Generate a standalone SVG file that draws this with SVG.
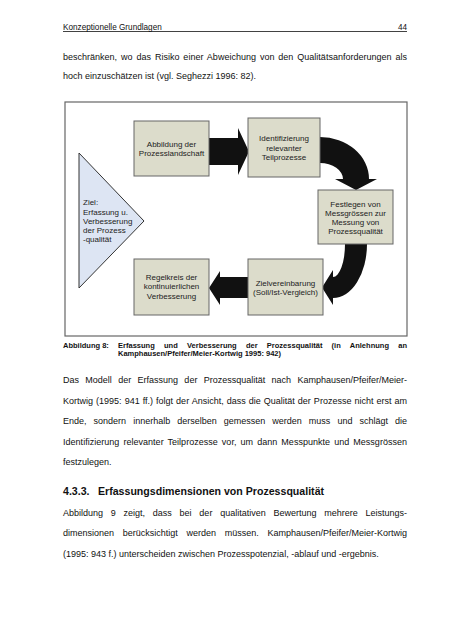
<svg xmlns="http://www.w3.org/2000/svg" width="452" height="640" viewBox="0 0 452 640">
<style>
text{font-family:"Liberation Sans",Arial,sans-serif;fill:#111}
.hdr{font-size:8.2px}
.body{font-size:9px}
.cap{font-size:7.5px;font-weight:bold}
.h3{font-size:10.6px;font-weight:bold}
.box{fill:#dcdccb;stroke:#666;stroke-width:1}
.bt{font-size:8px;fill:#222;text-anchor:middle}
.tt{font-size:8px;fill:#222}
.arr{fill:#111;stroke:none}
</style>
<rect width="452" height="640" fill="#fff"/>
<g id="page-header">
<text class="hdr" x="63" y="30">Konzeptionelle Grundlagen</text>
<text class="hdr" x="407" y="30" text-anchor="end">44</text>
<line x1="63" y1="31.5" x2="407" y2="31.5" stroke="#111" stroke-width="0.8"/>
</g>
<g id="para1">
<text class="body" x="63" y="60" word-spacing="1.42" textLength="344" lengthAdjust="spacing">beschränken, wo das Risiko einer Abweichung von den Qualitätsanforderungen als</text>
<text class="body" x="63" y="78.5">hoch einzuschätzen ist (vgl. Seghezzi 1996: 82).</text>
</g>
<g id="frame">
<rect x="65" y="102" width="342" height="234" fill="#fff" stroke="#666" stroke-width="1.2"/>
</g>
<g id="connectors">
<path class="arr" d="M209,138 L238,138 L238,128 L249,151.5 L238,175 L238,165 L209,165 Z"/>
<path class="arr" d="M320,137 A49,42 0 0 1 369,179 L377,179 L356,190 L335,179 L343,179 A23,16 0 0 0 320,163 Z"/>
<path class="arr" d="M367,244 A34,54 0 0 1 333,298 L333,305 L322,287.5 L333,270 L333,277 A12,33 0 0 0 345,244 Z"/>
<path class="arr" d="M248,277 L220,277 L220,271 L209,288 L220,305 L220,298 L248,298 Z"/>
</g>
<g id="node-ziel">
<polygon points="79,153 144,221 79,288" fill="#dde5f3" stroke="#333" stroke-width="1"/>
<text class="tt" x="83" y="205">Ziel:</text>
<text class="tt" x="83" y="214.5">Erfassung u.</text>
<text class="tt" x="83" y="223.5">Verbesserung</text>
<text class="tt" x="83" y="232.5">der Prozess</text>
<text class="tt" x="83" y="241.5">-qualität</text>
</g>
<g id="node-abbildung">
<rect class="box" x="134" y="121" width="75" height="55"/>
<text class="bt" x="171.5" y="146.5">Abbildung der</text>
<text class="bt" x="171.5" y="156">Prozesslandschaft</text>
</g>
<g id="node-identifizierung">
<rect class="box" x="248" y="118" width="72" height="59"/>
<text class="bt" x="284" y="141">Identifizierung</text>
<text class="bt" x="284" y="150.5">relevanter</text>
<text class="bt" x="284" y="160">Teilprozesse</text>
</g>
<g id="node-festlegen">
<rect class="box" x="318" y="190" width="75" height="54"/>
<text class="bt" x="355.5" y="207">Festlegen von</text>
<text class="bt" x="355.5" y="216">Messgrössen zur</text>
<text class="bt" x="355.5" y="225">Messung von</text>
<text class="bt" x="355.5" y="234">Prozessqualität</text>
</g>
<g id="node-zielvereinbarung">
<rect class="box" x="248" y="259" width="75" height="56"/>
<text class="bt" x="285.5" y="285.5">Zielvereinbarung</text>
<text class="bt" x="285.5" y="294.5">(Soll/Ist-Vergleich)</text>
</g>
<g id="node-regelkreis">
<rect class="box" x="134" y="259" width="75" height="56"/>
<text class="bt" x="171.5" y="279.5">Regelkreis der</text>
<text class="bt" x="171.5" y="289">kontinuierlichen</text>
<text class="bt" x="171.5" y="298.5">Verbesserung</text>
</g>
<g id="caption">
<text class="cap" x="63" y="347.5">Abbildung 8:</text>
<text class="cap" x="118" y="347.5" word-spacing="7.1" textLength="289" lengthAdjust="spacing">Erfassung und Verbesserung der Prozessqualität (in Anlehnung an</text>
<text class="cap" x="118" y="356">Kamphausen/Pfeifer/Meier-Kortwig 1995: 942)</text>
</g>
<g id="para2">
<text class="body" x="63" y="383" word-spacing="3.84" textLength="344" lengthAdjust="spacing">Das Modell der Erfassung der Prozessqualität nach Kamphausen/Pfeifer/Meier-</text>
<text class="body" x="63" y="403.5" word-spacing="0.49" textLength="344" lengthAdjust="spacing">Kortwig (1995: 941 ff.) folgt der Ansicht, dass die Qualität der Prozesse nicht erst am</text>
<text class="body" x="63" y="424" word-spacing="4.54" textLength="344" lengthAdjust="spacing">Ende, sondern innerhalb derselben gemessen werden muss und schlägt die</text>
<text class="body" x="63" y="444.5" word-spacing="1.55" textLength="344" lengthAdjust="spacing">Identifizierung relevanter Teilprozesse vor, um dann Messpunkte und Messgrössen</text>
<text class="body" x="63" y="465">festzulegen.</text>
</g>
<g id="heading">
<text class="h3" x="63" y="495">4.3.3.</text>
<text class="h3" x="98" y="495">Erfassungsdimensionen von Prozessqualität</text>
</g>
<g id="para3">
<text class="body" x="63" y="515.5" word-spacing="5.26" textLength="344" lengthAdjust="spacing">Abbildung 9 zeigt, dass bei der qualitativen Bewertung mehrere Leistungs-</text>
<text class="body" x="63" y="536" word-spacing="6.2" textLength="344" lengthAdjust="spacing">dimensionen berücksichtigt werden müssen. Kamphausen/Pfeifer/Meier-Kortwig</text>
<text class="body" x="63" y="556.5">(1995: 943 f.) unterscheiden zwischen Prozesspotenzial, -ablauf und -ergebnis.</text>
</g>
</svg>
